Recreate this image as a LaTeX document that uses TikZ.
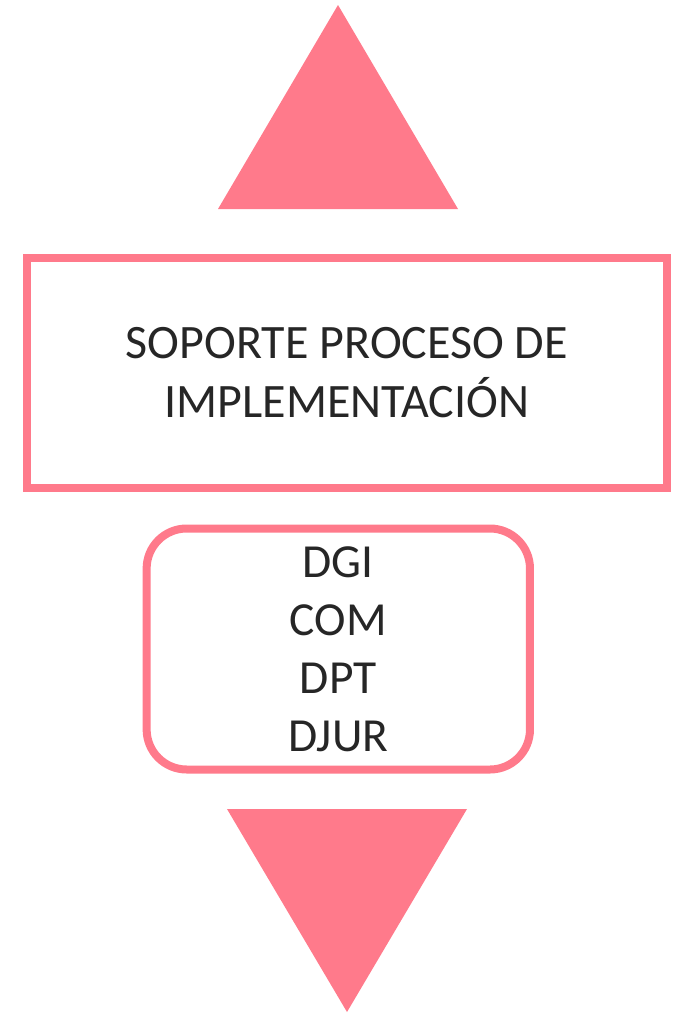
\documentclass[tikz,border=0pt]{standalone}
\usepackage{fontspec}
\setmainfont{Carlito}
\usepackage{xcolor}
\usetikzlibrary{positioning}
\definecolor{rosa}{RGB}{255,122,139}
\definecolor{texto}{RGB}{38,38,38}

\begin{document}
\begin{tikzpicture}[
      x=0.75pt, y=-0.75pt,
      caja/.style   = {draw=rosa, line width=6pt, fill=white,
                       minimum width=480.4pt, minimum height=172.5pt,
                       align=center, text=texto,
                       font=\fontsize{36}{44.25}\selectfont},
      lista/.style  = {draw=rosa, line width=6pt, rounded corners=30pt,
                       minimum width=287.5pt, minimum height=180.75pt,
                       align=center, text=texto,
                       font=\fontsize{35.6}{43.5}\selectfont},
      flecha/.style = {fill=rosa},
    ]
    \useasboundingbox (0,0) rectangle (679,1014);

    % flecha arriba
    \fill[flecha] (338,5) -- (458,209) -- (218,209) -- cycle;

    \node[caja]  (soporte) at (347,373)   {SOPORTE PROCESO DE\\IMPLEMENTACIÓN};
    \node[lista] (areas)   at (338.3,649) {DGI\\COM\\DPT\\DJUR};

    % flecha abajo
    \fill[flecha] (227,809) -- (467,809) -- (347,1012) -- cycle;
  \end{tikzpicture}
\end{document}
